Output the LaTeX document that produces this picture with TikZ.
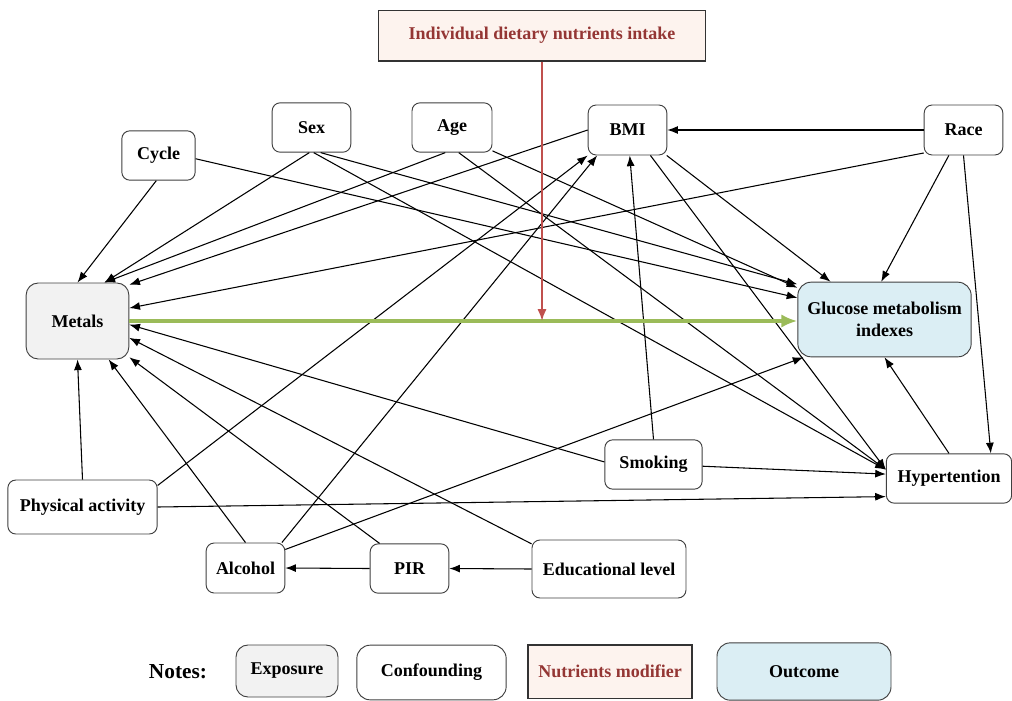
\documentclass[tikz,border=0pt]{standalone}
\usepackage{fontspec}
\setmainfont{Liberation Serif}
\usepackage{tikz}
\usetikzlibrary{arrows.meta,positioning,calc}
\definecolor{ExpFill}{HTML}{F2F2F2}
\definecolor{OutFill}{HTML}{DBEEF4}
\definecolor{ModFill}{HTML}{FDF3EE}
\definecolor{ModText}{HTML}{943634}
\definecolor{ModLine}{HTML}{C0504D}
\definecolor{PathGreen}{HTML}{9BBB59}
\definecolor{BoxLine}{HTML}{404040}

\begin{document}
\begin{tikzpicture}[x=0.75pt, y=-0.75pt,
  box/.style={draw=BoxLine, fill=white, rounded corners=6pt, line width=0.7pt,
    font=\fontsize{13.5}{16.5}\selectfont\bfseries, align=center, inner sep=2pt},
  expbox/.style={box, fill=ExpFill, rounded corners=9pt},
  outbox/.style={box, fill=OutFill, rounded corners=10pt},
  modbox/.style={box, rounded corners=0pt, fill=ModFill, draw=black!80,
    line width=1pt, text=ModText},
  arr/.style={-{Latex[length=8pt,width=6pt]}, line width=0.8pt},
  mainarr/.style={-{Latex[length=12pt,width=10pt]}, PathGreen, line width=2.4pt},
  modarr/.style={-{Latex[length=9pt,width=7pt]}, ModLine, line width=1.5pt}]
  \useasboundingbox (0,0) rectangle (1012,700);

  % modifier, covariates and the two main boxes
  \node[modbox, minimum width=245pt, minimum height=38pt] (nutr) at (542,35.5) {Individual dietary nutrients intake};
  \node[box, minimum width=55pt, minimum height=37pt] (cycle) at (158.5,155.5) {Cycle};
  \node[box, minimum width=59pt, minimum height=37pt] (sex) at (311.5,127.5) {Sex};
  \node[box, minimum width=60pt, minimum height=37pt] (age) at (452,127.5) {Age};
  \node[box, minimum width=59pt, minimum height=37.5pt] (bmi) at (627.5,130) {BMI};
  \node[box, minimum width=59pt, minimum height=37.5pt] (race) at (963.5,130) {Race};
  \node[expbox, minimum width=77pt, minimum height=57pt] (metals) at (77.5,321) {Metals};
  \node[outbox, minimum width=130pt, minimum height=56pt] (gluc) at (884.5,319.5) {Glucose metabolism\\indexes};
  \node[box, minimum width=73pt, minimum height=37pt] (smoking) at (653.5,464.5) {Smoking};
  \node[box, minimum width=94pt, minimum height=37pt] (hyper) at (949,478.5) {Hypertention};
  \node[box, minimum width=112pt, minimum height=40.5pt] (phys) at (82.5,507) {Physical activity};
  \node[box, minimum width=59pt, minimum height=37.5pt] (alcohol) at (245.5,568) {Alcohol};
  \node[box, minimum width=59pt, minimum height=37pt] (pir) at (409.5,568.5) {PIR};
  \node[box, minimum width=115.5pt, minimum height=43.5pt] (edu) at (609,569) {Educational level};

  % into Metals
  \draw[arr] (cycle.265) -- (metals.north);
  \draw[arr] (sex.265) -- (metals.55);
  \draw[arr] (age.255) -- (metals.55);
  \draw[arr] (bmi.west) -- (metals.35);
  \draw[arr] (race.210) -- (metals.14);
  \draw[arr] (smoking.177) -- (metals.-4);
  \draw[arr] (edu.162) -- (metals.-18);
  \draw[arr] (pir.140) -- (metals.-35);
  \draw[arr] (alcohol.north) -- (metals.-51);
  \draw[arr] (phys.north) -- (metals.south);
  % into Glucose
  \draw[arr] (cycle.-5) -- (gluc.166);
  \draw[arr] (sex.-70) -- (gluc.158);
  \draw[arr] (age.-30) -- (gluc.160);
  \draw[arr] (bmi.-33) -- (gluc.145);
  \draw[arr] (race.240) -- (gluc.95);
  \draw[arr] (alcohol.25) -- (gluc.205);
  \draw[arr] (hyper.north) -- (gluc.south);
  % into Hypertention
  \draw[arr] (sex.-85) -- (hyper.172);
  \draw[arr] (age.-75) -- (hyper.172);
  \draw[arr] (bmi.-48) -- (hyper.172);
  \draw[arr] (smoking.-2) -- (hyper.176);
  \draw[arr] (phys.east) -- (hyper.196);
  \draw[arr] (race.south) -- (hyper.31);
  % into BMI and the rest
  \draw[arr] (race.west) -- (bmi.east);
  \draw[arr] (smoking.north) -- (bmi.-85);
  \draw[arr] (phys.16) -- (bmi.south west);
  \draw[arr] (alcohol.35) -- (bmi.220);
  \draw[arr] (pir.west) -- (alcohol.east);
  \draw[arr] (edu.west) -- (pir.east);

  % exposure -> outcome, modified by nutrients
  \draw[mainarr] (metals.east) -- (metals.east -| gluc.west);
  \draw[modarr] (nutr.south) -- (nutr.south |- metals.east);

  % legend
  \node[font=\fontsize{16}{18}\selectfont\bfseries] (notes) at (178,672) {Notes:};
  \node[expbox, minimum width=76.5pt, minimum height=39pt] (lexp) at (287,671) {Exposure};
  \node[box, rounded corners=10pt, minimum width=112pt, minimum height=41pt] (lconf) at (431.5,672.5) {Confounding};
  \node[modbox, minimum width=123pt, minimum height=40pt] (lmod) at (610,671.5) {Nutrients modifier};
  \node[outbox, minimum width=130.5pt, minimum height=43pt] (lout) at (804,671.5) {Outcome};
\end{tikzpicture}
\end{document}
